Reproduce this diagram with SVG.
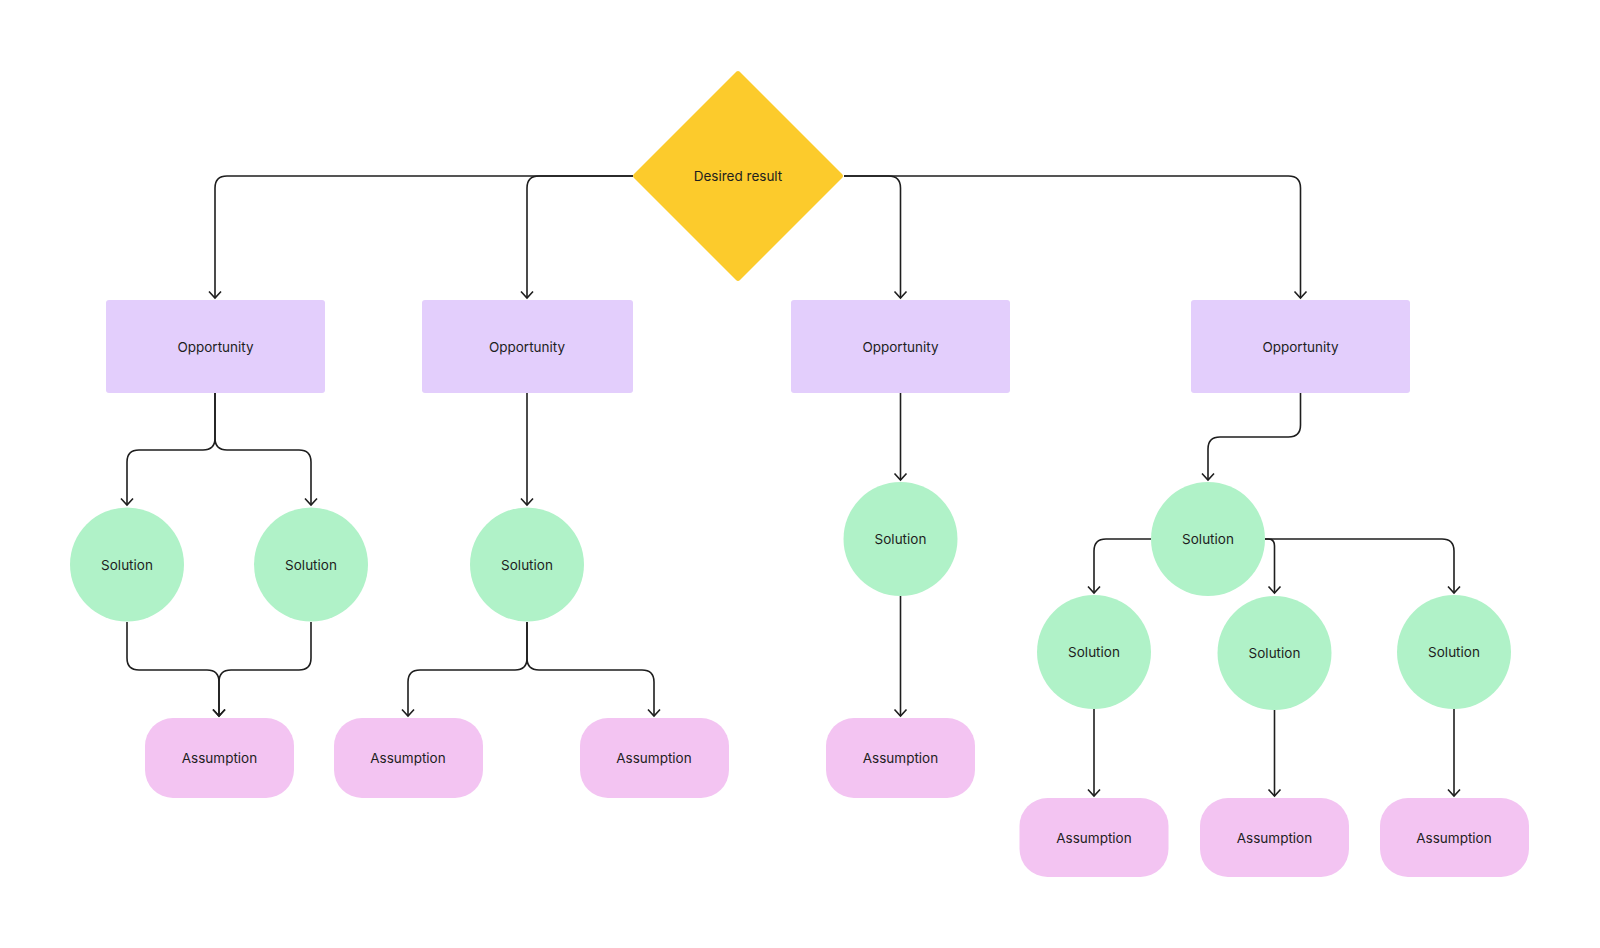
<svg xmlns="http://www.w3.org/2000/svg" width="1600" height="948" viewBox="0 0 1600 948">
<style>
.t{font-family:Inter,"Liberation Sans",sans-serif;font-size:13.5px;fill:#1e1e1e;text-anchor:middle;dominant-baseline:central}
.opp{fill:#e3cefc}
.sol{fill:#b0f2c8}
.ass{fill:#f3c4f2}
.c path{fill:none;stroke:#1e1e1e;stroke-width:1.6;marker-end:url(#arr)}
</style>
<defs>
<marker id="arr" viewBox="-10 -10 20 20" markerUnits="userSpaceOnUse" markerWidth="20" markerHeight="20" refX="0" refY="0" orient="auto" overflow="visible">
<path d="M-6.5,-6 L0,0 L-6.5,6" fill="none" stroke="#1e1e1e" stroke-width="1.6"/>
</marker>
</defs>
<rect width="1600" height="948" fill="#ffffff"/>
<g class="c" id="connectors">
<path d="M633,176 H227 Q215,176 215,188 V298"/>
<path d="M633,176 H539 Q527,176 527,188 V298"/>
<path d="M844,176 H888.5 Q900.5,176 900.5,188 V298"/>
<path d="M844,176 H1288.5 Q1300.5,176 1300.5,188 V298"/>
<path d="M215,393 V438 Q215,450 203,450 H139 Q127,450 127,462 V505"/>
<path d="M215,393 V438 Q215,450 227,450 H299 Q311,450 311,462 V505"/>
<path d="M127,622 V658 Q127,670 139,670 H207 Q219,670 219,682 V716"/>
<path d="M311,622 V658 Q311,670 299,670 H231 Q219,670 219,682 V716"/>
<path d="M527,393 V505"/>
<path d="M527,622 V658 Q527,670 515,670 H420 Q408,670 408,682 V716"/>
<path d="M527,622 V658 Q527,670 539,670 H642 Q654,670 654,682 V716"/>
<path d="M900.5,393 V480"/>
<path d="M900.5,596 V716"/>
<path d="M1300.5,393 V425 Q1300.5,437 1288.5,437 H1220 Q1208,437 1208,449 V480"/>
<path d="M1151,539 H1106 Q1094,539 1094,551 V593"/>
<path d="M1265,539 H1268 Q1274.5,539 1274.5,546 V593"/>
<path d="M1265,539 H1442 Q1454,539 1454,551 V593"/>
<path d="M1094,709 V796"/>
<path d="M1274.5,710 V796"/>
<path d="M1454,709 V796"/>
</g>
<g id="desired">
<path d="M738,72 Q738,70 740,72 L842,174 Q844,176 842,178 L740,280 Q738,282 736,280 L634,178 Q632,176 634,174 L736,72 Q738,70 738,72 Z" fill="#fccb2c"/>
<text class="t" x="738" y="176">Desired result</text>
</g>
<g id="opp1"><rect class="opp" x="106" y="300" width="219" height="93" rx="3"/><text class="t" x="215.5" y="347">Opportunity</text></g>
<g id="opp2"><rect class="opp" x="422" y="300" width="211" height="93" rx="3"/><text class="t" x="527" y="347">Opportunity</text></g>
<g id="opp3"><rect class="opp" x="791" y="300" width="219" height="93" rx="3"/><text class="t" x="900.5" y="347">Opportunity</text></g>
<g id="opp4"><rect class="opp" x="1191" y="300" width="219" height="93" rx="3"/><text class="t" x="1300.5" y="347">Opportunity</text></g>
<g id="sol1"><circle class="sol" cx="127" cy="564.5" r="57"/><text class="t" x="127" y="564.5">Solution</text></g>
<g id="sol2"><circle class="sol" cx="311" cy="564.5" r="57"/><text class="t" x="311" y="564.5">Solution</text></g>
<g id="sol3"><circle class="sol" cx="527" cy="564.5" r="57"/><text class="t" x="527" y="564.5">Solution</text></g>
<g id="sol4"><circle class="sol" cx="900.5" cy="539" r="57"/><text class="t" x="900.5" y="539">Solution</text></g>
<g id="sol5"><circle class="sol" cx="1208" cy="539" r="57"/><text class="t" x="1208" y="539">Solution</text></g>
<g id="sol6"><circle class="sol" cx="1094" cy="652" r="57"/><text class="t" x="1094" y="652">Solution</text></g>
<g id="sol7"><circle class="sol" cx="1274.5" cy="653" r="57"/><text class="t" x="1274.5" y="653">Solution</text></g>
<g id="sol8"><circle class="sol" cx="1454" cy="652" r="57"/><text class="t" x="1454" y="652">Solution</text></g>
<g id="ass1"><rect class="ass" x="145" y="718" width="149" height="80" rx="28"/><text class="t" x="219.5" y="758">Assumption</text></g>
<g id="ass2"><rect class="ass" x="334" y="718" width="149" height="80" rx="28"/><text class="t" x="408" y="758">Assumption</text></g>
<g id="ass3"><rect class="ass" x="580" y="718" width="149" height="80" rx="28"/><text class="t" x="654" y="758">Assumption</text></g>
<g id="ass4"><rect class="ass" x="826" y="718" width="149" height="80" rx="28"/><text class="t" x="900.5" y="758">Assumption</text></g>
<g id="ass5"><rect class="ass" x="1019.5" y="798" width="149" height="79" rx="28"/><text class="t" x="1094" y="837.5">Assumption</text></g>
<g id="ass6"><rect class="ass" x="1200" y="798" width="149" height="79" rx="28"/><text class="t" x="1274.5" y="837.5">Assumption</text></g>
<g id="ass7"><rect class="ass" x="1380" y="798" width="149" height="79" rx="28"/><text class="t" x="1454" y="837.5">Assumption</text></g>
</svg>
